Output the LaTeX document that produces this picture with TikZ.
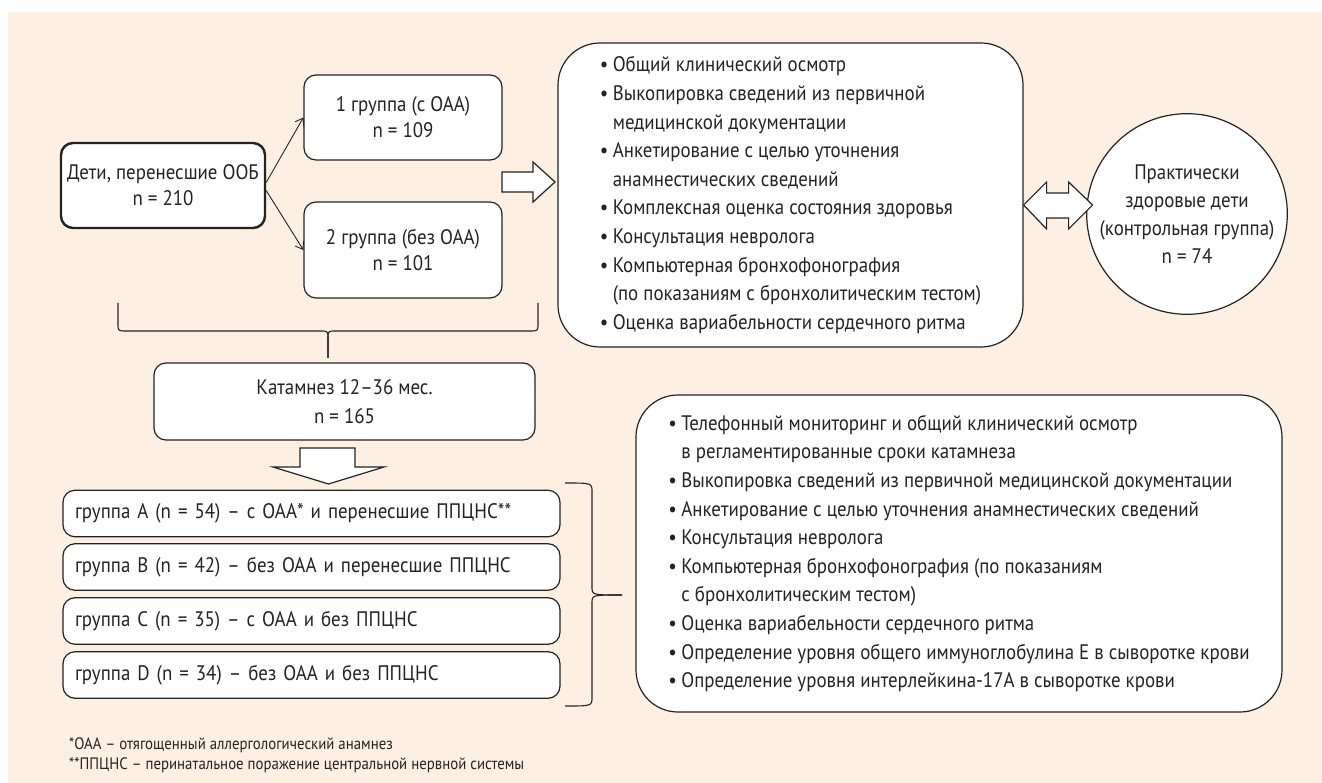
\documentclass[tikz,border=0pt]{standalone}
\usepackage{fontspec}
\setmainfont{PT Sans}[FakeStretch=0.9]
\usepackage{tikz}
\usetikzlibrary{arrows.meta}
\usetikzlibrary{positioning}

\definecolor{peach}{RGB}{253,239,226}
\definecolor{ink}{RGB}{35,35,35}
\newcommand{\bul}{\makebox[13pt][l]{•}}
\newcommand{\ind}{\hspace*{13pt}}

\begin{document}
\begin{tikzpicture}[x=1pt,y=-1pt]
\tikzstyle{every node}=[font=\fontsize{21}{26}\selectfont,text=ink]
\tikzstyle{box}=[draw=ink,fill=white,line width=1.2pt,rounded corners=12pt,align=center,inner sep=0pt]
\tikzstyle{bigbox}=[box,rounded corners=42pt,align=left,font=\fontsize{21}{28.6}\selectfont]
\tikzstyle{grp}=[box,align=left,text width=473pt,inner xsep=12pt,minimum height=46.5pt]
\tikzstyle{fat}=[draw=ink,fill=white,line width=1.2pt]
\tikzstyle{conn}=[draw=ink,line width=0.9pt,-{Straight Barb[length=7pt,width=10pt]}]
\tikzstyle{brace}=[draw=ink,line width=1.1pt]

\useasboundingbox (0,0) rectangle (1322,783);
\fill[white] (0,0) rectangle (1322,783);
\fill[peach] (8,12) rectangle (1322,783);

% upper part
\node[box,line width=2.4pt,minimum width=204pt,minimum height=85pt] (kids) at (163,185.5) {Дети, перенесшие ООБ\\n = 210};
\node[box,minimum width=198pt,minimum height=85pt] (grp1) at (403,117.5) {1 группа (с ОАА)\\n = 109};
\node[box,minimum width=198pt,minimum height=96pt] (grp2) at (403,250) {2 группа (без ОАА)\\n = 101};
\draw[conn] ([yshift=3pt]kids.east) -- (grp1.west);
\draw[conn] ([yshift=-5pt]kids.east) -- (grp2.west);

\node[bigbox,minimum width=465pt,minimum height=304pt] (exam1) at (790.5,195) {%
\bul Общий клинический осмотр\\
\bul Выкопировка сведений из первичной\\
\ind медицинской документации\\
\bul Анкетирование с целью уточнения\\
\ind анамнестических сведений\\
\bul Комплексная оценка состояния здоровья\\
\bul Консультация невролога\\
\bul Компьютерная бронхофонография\\
\ind (по показаниям с бронхолитическим тестом)\\
\bul Оценка вариабельности сердечного ритма};
\draw[fat] (502,172) -- (533,172) -- (533,162) -- (555,182) -- (533,202) -- (533,192) -- (502,192) -- cycle;

\node[box,circle,minimum size=192pt,font=\fontsize{21}{28}\selectfont] (ctrl) at (1187,214) {Практически\\здоровые дети\\(контрольная группа)\\n = 74};
\draw[fat] (exam1.east |- 0,205) -- ++(23,-23) -- ++(0,11) -- ++(22,0) -- ++(0,-11) -- ++(24,23)
  -- ++(-24,24) -- ++(0,-11) -- ++(-22,0) -- ++(0,11) -- cycle;

% follow-up
\coordinate (tip1) at (328,358);
\draw[brace] (118,303) -- (118,323) .. controls (118,331) .. (126,331) -- (320,331) .. controls (328,331) .. (328,339) -- (tip1);
\draw[brace] (538,303) -- (538,323) .. controls (538,331) .. (530,331) -- (336,331) .. controls (328,331) .. (328,339) -- (tip1);
\node[box,minimum width=381pt,minimum height=77pt,font=\fontsize{21}{29}\selectfont] (follow) at (344.5,401.5) {Катамнез 12–36 мес.\\n = 165};
\draw[fat] (300,448) -- (355,448) -- (355,467) -- (384,467) -- (328.5,484) -- (273,467) -- (300,467) -- cycle;

\node[grp] (grpA) at (311.5,513.5) {группа A (n = 54) – с ОАА* и перенесшие ППЦНС**};
\node[grp] (grpB) at (311.5,567) {группа B (n = 42) – без ОАА и перенесшие ППЦНС};
\node[grp] (grpC) at (311.5,621) {группа C (n = 35) – с ОАА и без ППЦНС};
\node[grp] (grpD) at (311.5,675) {группа D (n = 34) – без ОАА и без ППЦНС};

\coordinate (tip2) at (622,595);
\draw[brace] (565,483) .. controls (592,483) .. (592,492) -- (592,587) .. controls (592,595) .. (tip2);
\draw[brace] (565,706) .. controls (592,706) .. (592,697) -- (592,603) .. controls (592,595) .. (tip2);

\node[bigbox,minimum width=646pt,minimum height=317pt] (exam2) at (959,553.5) {%
\bul Телефонный мониторинг и общий клинический осмотр\\
\ind в регламентированные сроки катамнеза\\
\bul Выкопировка сведений из первичной медицинской документации\\
\bul Анкетирование с целью уточнения анамнестических сведений\\
\bul Консультация невролога\\
\bul Компьютерная бронхофонография (по показаниям\\
\ind с бронхолитическим тестом)\\
\bul Оценка вариабельности сердечного ритма\\
\bul Определение уровня общего иммуноглобулина Е в сыворотке крови\\
\bul Определение уровня интерлейкина-17А в сыворотке крови};

% footnotes
\node[anchor=north west,align=left,inner sep=0pt,font=\fontsize{16.5}{20}\selectfont] (notes) at (69,737)
  {*ОАА – отягощенный аллергологический анамнез\\**ППЦНС – перинатальное поражение центральной нервной системы};
\end{tikzpicture}
\end{document}
